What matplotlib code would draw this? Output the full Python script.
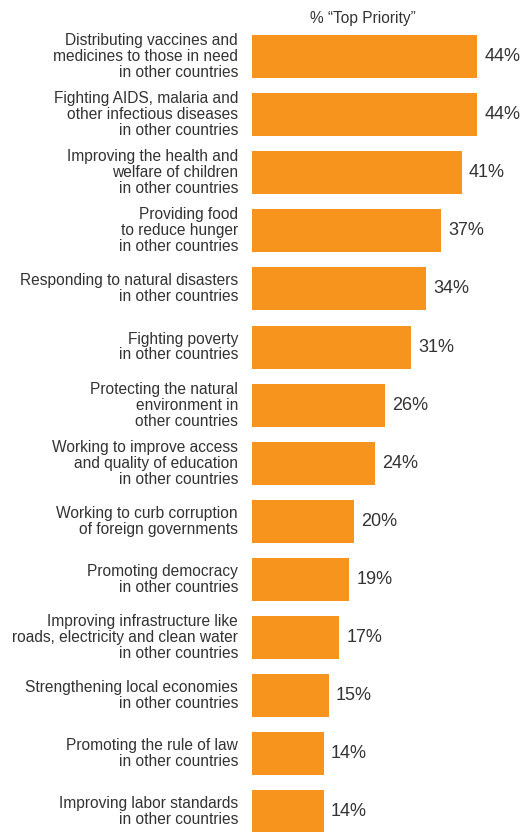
import matplotlib.pyplot as plt

categories = [
    "Distributing vaccines and\nmedicines to those in need\nin other countries",
    "Fighting AIDS, malaria and\nother infectious diseases\nin other countries",
    "Improving the health and\nwelfare of children\nin other countries",
    "Providing food\nto reduce hunger\nin other countries",
    "Responding to natural disasters\nin other countries",
    "Fighting poverty\nin other countries",
    "Protecting the natural\nenvironment in\nother countries",
    "Working to improve access\nand quality of education\nin other countries",
    "Working to curb corruption\nof foreign governments",
    "Promoting democracy\nin other countries",
    "Improving infrastructure like\nroads, electricity and clean water\nin other countries",
    "Strengthening local economies\nin other countries",
    "Promoting the rule of law\nin other countries",
    "Improving labor standards\nin other countries",
]
top_priority = [44, 44, 41, 37, 34, 31, 26, 24, 20, 19, 17, 15, 14, 14]

BAR_COLOR = "#F7941E"
TEXT_COLOR = "#333333"
plt.rcParams["font.family"] = ["Liberation Sans", "DejaVu Sans"]

W, H = 522, 832
fig = plt.figure(figsize=(W / 100, H / 100), dpi=100)

# axes start where the bars begin; y units are bar slots
x0 = 252
ax = fig.add_axes([x0 / W, 0, 1 - x0 / W, 1])
px_per_pct = 5.12
ax.set_xlim(0, (W - x0) / px_per_pct)
pitch = 58.1
first_center = 56.5
ax.set_ylim((H - first_center) / pitch, -first_center / pitch)
ax.axis("off")

ypos = list(range(len(categories)))
ax.barh(ypos, top_priority, height=43 / pitch, color=BAR_COLOR, edgecolor="none")

for y, v, label in zip(ypos, top_priority, categories):
    ax.text(v + 1.4, y, f"{v}%", va="center", ha="left",
            fontsize=13, color=TEXT_COLOR)
    ax.text(-14 / px_per_pct, y, label, va="center", ha="right",
            fontsize=11.2, color=TEXT_COLOR, linespacing=1.08,
            clip_on=False)

ax.text((363 - x0) / px_per_pct, -first_center / pitch + 19 / pitch,
        "% \u201cTop Priority\u201d", ha="center", va="center",
        fontsize=11.2, color=TEXT_COLOR)

fig.savefig("out.png", dpi=100, facecolor="white")
